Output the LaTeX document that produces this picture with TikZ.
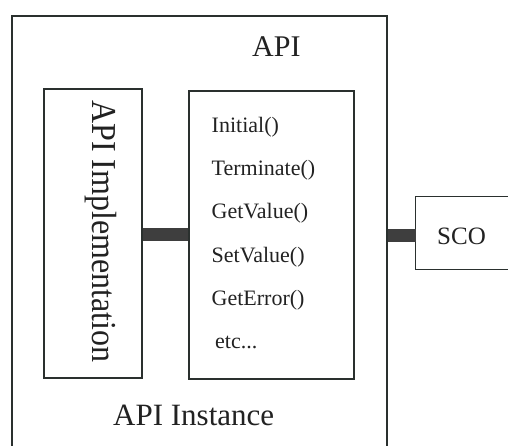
\documentclass[tikz,border=0pt]{standalone}
\usepackage{fontspec}
\setmainfont{Liberation Serif}
\usepackage{graphicx}
\definecolor{ink}{HTML}{2A302E}
\definecolor{txt}{HTML}{222222}
\definecolor{barfill}{HTML}{3E3E3E}
\begin{document}
\begin{tikzpicture}[x=1pt,y=-1pt,
  box/.style={draw=ink,line width=1.2pt,inner sep=0pt,fill=none},
  label/.style={inner sep=0pt,text=txt},
  func/.style={label,anchor=base west,font=\fontsize{22}{22}\selectfont},
  bar/.style={draw=barfill,line width=13pt}]
\useasboundingbox (0,0) rectangle (508,445);
\fill[white] (0,0) rectangle (508,445);

% outer API instance box (its lower edge lies below the page)
\node[box,minimum width=375,minimum height=450] (api) at (199.5,241) {};
\node[label,anchor=base west,font=\fontsize{30}{30}\selectfont] (apititle) at (252,56) {API};
\node[label,anchor=base west,font=\fontsize{31}{31}\selectfont] (instance) at (113,425) {API Instance};

% implementation box with vertical caption
\node[box,minimum width=98,minimum height=289] (impl) at (93,233.5) {};
\node[label,anchor=base west,rotate=-90,font=\fontsize{35}{35}\selectfont] (impltext) at (92,100)
  {\scalebox{0.915}[1]{API Implementation}};

% function list box
\node[box,minimum width=165,minimum height=288] (funcs) at (271.5,235) {};
\node[func] (f1) at (211.5,132) {Initial()};
\node[func] (f2) at (211.5,175) {Terminate()};
\node[func] (f3) at (211.5,218.5) {GetValue()};
\node[func] (f4) at (211.5,262) {SetValue()};
\node[func] (f5) at (211.5,305) {GetError()};
\node[func] (f6) at (215,348) {etc...};

% SCO box, open to the right edge
\node[inner sep=0pt,minimum width=120,minimum height=72] (sco) at (476,233) {};
\draw[ink,line width=1.2pt] (sco.north east) -- (sco.north west) -- (sco.south west) -- (sco.south east);
\node[label,anchor=base west,font=\fontsize{25}{25}\selectfont] (scotext) at (437,244) {SCO};

% connecting bars
\coordinate (y1) at (0,234.5);
\coordinate (y2) at (0,235);
\draw[bar] (impl.east |- y1) -- (funcs.west |- y1);
\draw[bar] (api.east |- y2) -- (sco.west |- y2);
\end{tikzpicture}
\end{document}
